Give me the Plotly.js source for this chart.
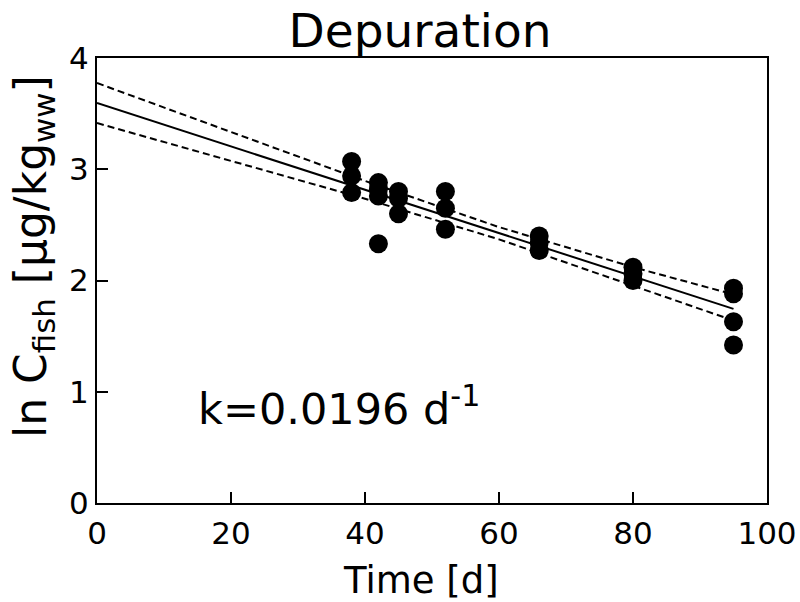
<!DOCTYPE html>
<html>
<head>
<meta charset="utf-8">
<script src="https://cdn.plot.ly/plotly-3.0.1.min.js"></script>
<style>html,body{margin:0;padding:0;background:#fff;}#chart{width:800px;height:602px;}</style>
</head>
<body>
<div id="chart"></div>
<script>
// Measured data (time in days, ln concentration)
const timeDays = [38, 38, 38, 42, 42, 42, 42, 45, 45, 45, 52, 52, 52, 66, 66, 66, 80, 80, 80, 95, 95, 95, 95];
const lnConc  = [3.07, 2.94, 2.79, 2.88, 2.82, 2.76, 2.33, 2.80, 2.74, 2.60, 2.80, 2.65, 2.46, 2.40, 2.34, 2.27, 2.12, 2.06, 2.00, 1.93, 1.88, 1.63, 1.42];

// Regression line and confidence band
const fitX     = [0, 20, 40, 60, 80, 95];
const fitY     = [3.595, 3.205, 2.815, 2.425, 2.035, 1.745];
const upperY   = [3.775, 3.335, 2.895, 2.48, 2.12, 1.875];
const lowerY   = [3.415, 3.075, 2.735, 2.37, 1.95, 1.64];

const xTicks = [0, 20, 40, 60, 80, 100];
const yTicks = [0, 1, 2, 3, 4];

const F = '"DejaVu Sans", Verdana, sans-serif';

const traces = [
  {x: fitX, y: upperY, mode: 'lines', line: {color: '#000', width: 2, dash: '7px,4px'}, hoverinfo: 'skip'},
  {x: fitX, y: lowerY, mode: 'lines', line: {color: '#000', width: 2, dash: '7px,4px'}, hoverinfo: 'skip'},
  {x: fitX, y: fitY, mode: 'lines', line: {color: '#000', width: 2}, hoverinfo: 'skip'},
  {x: timeDays, y: lnConc, mode: 'markers', marker: {color: '#000', size: 19}}
];

const axisCommon = {
  showgrid: false, zeroline: false, showline: true, mirror: true,
  linecolor: '#000', linewidth: 2, ticks: 'inside', ticklen: 11, tickwidth: 2, tickcolor: '#000',
  tickfont: {family: F, size: 31, color: '#000'}
};

const layout = {
  width: 800, height: 602,
  margin: {l: 97, r: 33, t: 58, b: 99},
  paper_bgcolor: '#fff', plot_bgcolor: '#fff',
  showlegend: false,
  font: {family: F, color: '#000'},
  title: {text: 'Depuration', font: {family: F, size: 47, color: '#000'}, x: 0.525, xanchor: 'center', y: 0.95, yanchor: 'middle'},
  xaxis: Object.assign({}, axisCommon, {
    range: [0, 100], tickvals: xTicks, ticktext: xTicks.map(String),
    ticklabelstandoff: 2
  }),
  yaxis: Object.assign({}, axisCommon, {
    range: [0, 4], tickvals: yTicks, ticktext: yTicks.map(String)
  }),
  annotations: [
    {
      x: 14.8, y: 0.87, xref: 'x', yref: 'y', xanchor: 'left', yanchor: 'middle',
      text: 'k=0.0196 d<sup>-1</sup>', showarrow: false,
      font: {family: F, size: 43, color: '#000'}
    },
    {
      x: 421, y: 602 - 580, xref: 'paper', yref: 'paper', showarrow: false,
      text: 'Time [d]', font: {family: F, size: 37, color: '#000'}
    },
    {
      x: 33, y: 602 - 257, xref: 'paper', yref: 'paper', showarrow: false, textangle: -90,
      text: 'ln C<sub>fish</sub> [μg/kg<sub>ww</sub>]', font: {family: F, size: 44, color: '#000'}
    }
  ]
};

// Axis-title annotations were specified in pixels; convert to paper fractions
const pw = 800 - layout.margin.l - layout.margin.r;
const ph = 602 - layout.margin.t - layout.margin.b;
layout.annotations.forEach((a, i) => {
  if (i > 0) {
    a.x = (a.x - layout.margin.l) / pw;
    a.y = (a.y - layout.margin.b) / ph;
    a.xanchor = 'center'; a.yanchor = 'middle';
  }
});

Plotly.newPlot('chart', traces, layout, {displayModeBar: false, staticPlot: true});
</script>
</body>
</html>
